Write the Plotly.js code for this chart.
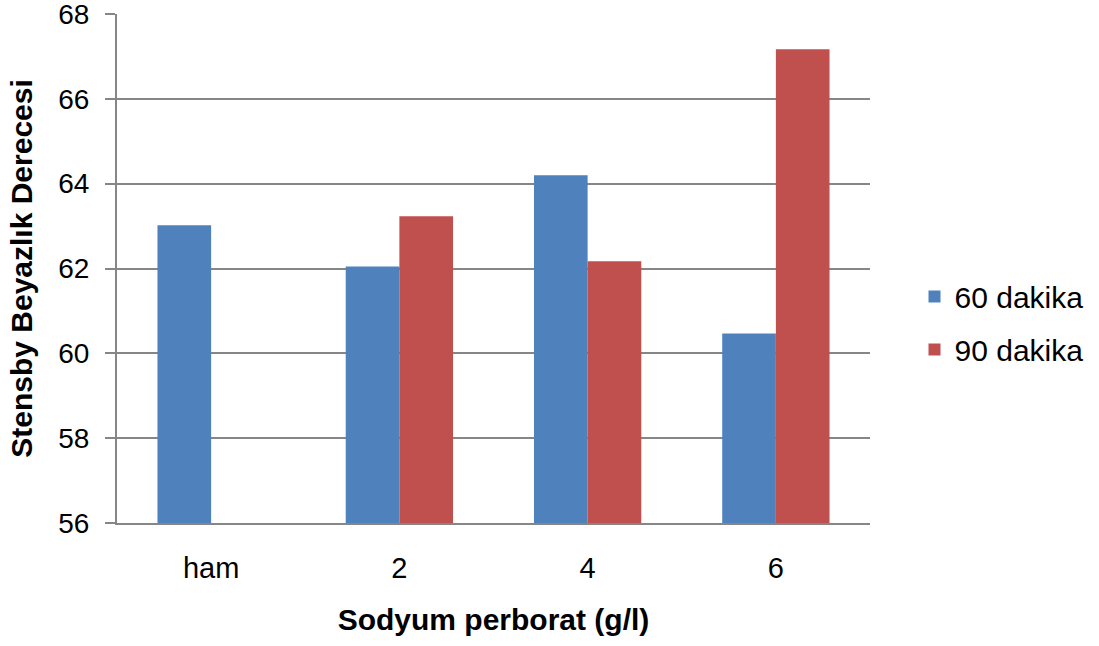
<!DOCTYPE html>
<html>
<head>
<meta charset="utf-8">
<script src="https://cdn.plot.ly/plotly-3.0.1.min.js"></script>
<style>html,body{margin:0;padding:0;background:#fff;}#chart{width:1099px;height:646px;}</style>
</head>
<body>
<div id="chart"></div>
<script>
const categories = ["ham", "2", "4", "6"];
const series60 = [63.02, 62.05, 64.2, 60.47];
const series90 = [null, 63.23, 62.17, 67.17];
const seriesNames = ["60 dakika", "90 dakika"];
const yTicks = [56, 58, 60, 62, 64, 66, 68];

const font = "Liberation Sans, Arial, sans-serif";
const gridColor = "#868686";

const traces = [
  {type: "bar", x: categories, y: series60, name: seriesNames[0], legendgroup: "a",
   marker: {color: "#4F81BD"}, hoverinfo: "x+y"},
  {type: "bar", x: categories, y: series90, name: seriesNames[1], legendgroup: "b",
   marker: {color: "#C0504D"}, hoverinfo: "x+y"}
];

const layout = {
  width: 1099, height: 646,
  margin: {l: 117, r: 228, t: 14, b: 123},
  paper_bgcolor: "#fff", plot_bgcolor: "#fff",
  font: {family: font, color: "#000", size: 28},
  barmode: "group", bargap: 0.43, bargroupgap: 0,
  showlegend: true,
  legend: {x: 1.0577, xanchor: "left", y: 0.393, yanchor: "middle",
           font: {family: font, size: 30, color: "#000"},
           tracegroupgap: 11, bgcolor: "rgba(0,0,0,0)"},
  xaxis: {
    type: "category", showgrid: false, showline: true, linecolor: gridColor, linewidth: 2,
    ticks: "", tickfont: {family: font, size: 29, color: "#000"},
    ticklabelstandoff: 18,
    title: {text: "<b>Sodyum perborat (g/l)</b>", font: {family: font, size: 30, color: "#000"}, standoff: 26},
    zeroline: false
  },
  yaxis: {
    range: [56, 68.0002], tickvals: yTicks, ticktext: yTicks.map(String),
    ticklabeloverflow: "allow",
    showgrid: true, gridcolor: gridColor, gridwidth: 2,
    showline: true, linecolor: gridColor, linewidth: 2,
    ticks: "outside", ticklen: 10, tickcolor: gridColor, tickwidth: 2,
    tickfont: {family: font, size: 28, color: "#000"},
    ticklabelstandoff: 10,
    title: {text: "<b>Stensby Beyazlık Derecesi</b>", font: {family: font, size: 30, color: "#000"}, standoff: 17},
    zeroline: false
  }
};

Plotly.newPlot("chart", traces, layout, {displayModeBar: false, staticPlot: true});
</script>
</body>
</html>
